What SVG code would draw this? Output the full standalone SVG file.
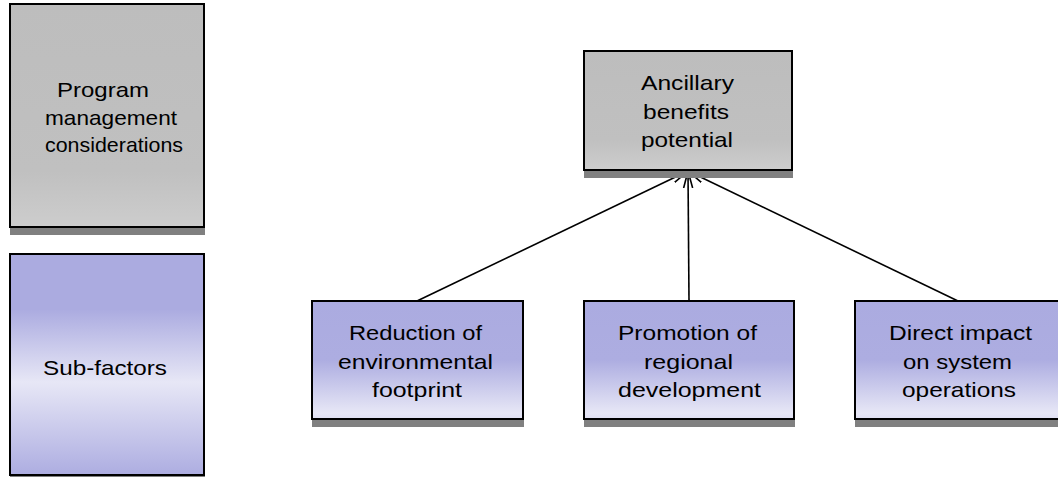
<svg xmlns="http://www.w3.org/2000/svg" width="1058" height="477" viewBox="0 0 1058 477">
<style>
.box{stroke:#000;stroke-width:2}
.shadow{fill:#808080}
.t{font-family:"Liberation Sans",Arial,sans-serif;font-size:21px;fill:#000}
.conn{stroke:#000;stroke-width:1.6;fill:none;marker-end:url(#arr)}
</style>
<defs>
<linearGradient id="gGray" x1="0" y1="0" x2="0" y2="1">
<stop offset="0" stop-color="#bdbdbd"/>
<stop offset="0.75" stop-color="#c0c0c0"/>
<stop offset="1" stop-color="#cdcdcd"/>
</linearGradient>
<linearGradient id="gSub" x1="0" y1="0" x2="0" y2="1">
<stop offset="0" stop-color="#ababe0"/>
<stop offset="0.25" stop-color="#ababe0"/>
<stop offset="0.58" stop-color="#e7e7f6"/>
<stop offset="1" stop-color="#adade1"/>
</linearGradient>
<linearGradient id="gBot" x1="0" y1="0" x2="0" y2="1">
<stop offset="0" stop-color="#ababe0"/>
<stop offset="0.5" stop-color="#adade1"/>
<stop offset="0.95" stop-color="#e7e7f6"/>
<stop offset="1" stop-color="#e0e0f3"/>
</linearGradient>
<marker id="arr" markerUnits="userSpaceOnUse" markerWidth="20" markerHeight="12" refX="17" refY="6" orient="auto">
<path d="M0,1.5 L17,6 L0,10.5" fill="none" stroke="#000" stroke-width="1.6"/>
</marker>
</defs>

<g id="legend-program">
<rect class="shadow" x="10" y="12" width="195" height="223"/>
<rect class="box" x="10" y="4" width="194" height="223" fill="url(#gGray)"/>
<text class="t" x="57" y="97" textLength="92" lengthAdjust="spacingAndGlyphs">Program</text>
<text class="t" x="45" y="124.5" textLength="132" lengthAdjust="spacingAndGlyphs">management</text>
<text class="t" x="45" y="152" textLength="138" lengthAdjust="spacingAndGlyphs">considerations</text>
</g>

<g id="legend-subfactors">
<rect class="shadow" x="10" y="262" width="195" height="222"/>
<rect class="box" x="10" y="254" width="194" height="221" fill="url(#gSub)"/>
<text class="t" x="43" y="375" textLength="124" lengthAdjust="spacingAndGlyphs">Sub-factors</text>
</g>

<g id="connectors">
<line class="conn" x1="417" y1="301" x2="688" y2="171"/>
<line class="conn" x1="689" y1="301" x2="688" y2="171"/>
<line class="conn" x1="958" y1="301" x2="688" y2="171"/>
</g>

<g id="ancillary">
<rect class="shadow" x="584" y="59" width="209" height="119"/>
<rect class="box" x="584" y="51" width="208" height="119" fill="url(#gGray)"/>
<text class="t" x="641" y="90" textLength="93" lengthAdjust="spacingAndGlyphs">Ancillary</text>
<text class="t" x="643" y="118.5" textLength="86" lengthAdjust="spacingAndGlyphs">benefits</text>
<text class="t" x="641" y="147" textLength="92" lengthAdjust="spacingAndGlyphs">potential</text>
</g>

<g id="reduction">
<rect class="shadow" x="312" y="309" width="212" height="118"/>
<rect class="box" x="312" y="301" width="211" height="118" fill="url(#gBot)"/>
<text class="t" x="349" y="340" textLength="133" lengthAdjust="spacingAndGlyphs">Reduction of</text>
<text class="t" x="338" y="368.5" textLength="155" lengthAdjust="spacingAndGlyphs">environmental</text>
<text class="t" x="372" y="397" textLength="90" lengthAdjust="spacingAndGlyphs">footprint</text>
</g>

<g id="promotion">
<rect class="shadow" x="584" y="309" width="211" height="118"/>
<rect class="box" x="584" y="301" width="210" height="118" fill="url(#gBot)"/>
<text class="t" x="618" y="340" textLength="139" lengthAdjust="spacingAndGlyphs">Promotion of</text>
<text class="t" x="644" y="368.5" textLength="89" lengthAdjust="spacingAndGlyphs">regional</text>
<text class="t" x="618" y="397" textLength="143" lengthAdjust="spacingAndGlyphs">development</text>
</g>

<g id="direct">
<rect class="shadow" x="855" y="309" width="212" height="118"/>
<rect class="box" x="855" y="301" width="211" height="118" fill="url(#gBot)"/>
<text class="t" x="889" y="340" textLength="143" lengthAdjust="spacingAndGlyphs">Direct impact</text>
<text class="t" x="903" y="368.5" textLength="109" lengthAdjust="spacingAndGlyphs">on system</text>
<text class="t" x="902" y="397" textLength="114" lengthAdjust="spacingAndGlyphs">operations</text>
</g>
</svg>
